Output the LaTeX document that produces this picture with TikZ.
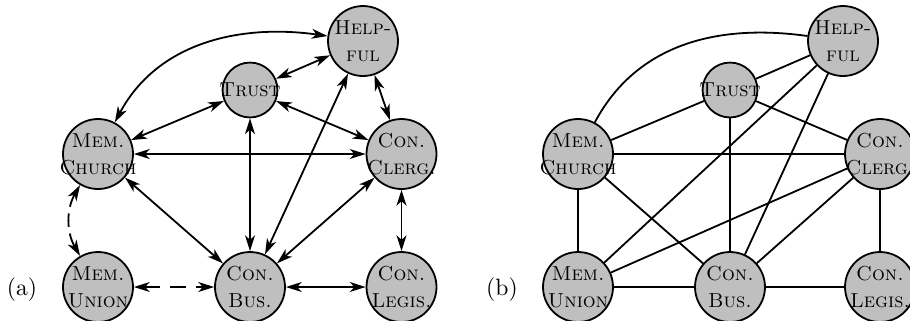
\documentclass[tikz,border=0pt]{standalone}
\usetikzlibrary{arrows.meta}
\begin{document}
\begin{tikzpicture}[x=0.4444pt,y=-0.4444pt,
  vtx/.style={circle,draw,line width=0.8pt,fill=black!25,inner sep=0pt,minimum size=31.1pt,
    label={[txt]center:#1}},
  txt/.style={inner sep=0pt,align=center,font=\fontsize{9}{12}\selectfont\scshape},
  sml/.style={minimum size=24.4pt},
  edge/.style={line width=0.8pt},
  tip/.tip={Stealth[length=7pt,width=4.4pt,inset=2pt]},
  bi/.style={edge,tip-tip},
  dsh/.style={dash pattern=on 7pt off 4.5pt},
  lab/.style={font=\fontsize{10.5}{12}\selectfont}
]
\useasboundingbox (0,0) rectangle (910,320);
% ---------- panel (a)
\node[vtx={Help-\\ful}] (ahelp) at (363,41) {};
\node[vtx={Trust},sml] (atrust) at (250,90) {};
\node[vtx={Mem.\\Church}] (achurch) at (98,154) {};
\node[vtx={Con.\\Clerg.}] (aclerg) at (401.5,154) {};
\node[vtx={Mem.\\Union}] (aunion) at (98,287) {};
\node[vtx={Con.\\Bus.}] (abus) at (250,287) {};
\node[vtx={Con.\\Legis.}] (alegis) at (401.5,287) {};
\node[lab] (alab) at (22,290) {(a)};
\draw[bi] (achurch) to[out=62,in=172] (ahelp);
\draw[bi] (atrust) -- (ahelp);
\draw[bi] (atrust) -- (achurch);
\draw[bi] (atrust) -- (aclerg);
\draw[bi] (ahelp) -- (aclerg);
\draw[bi] (achurch) -- (aclerg);
\draw[bi] (atrust) -- (abus);
\draw[bi] (abus) -- (ahelp);
\draw[bi] (achurch) -- (abus);
\draw[bi] (aclerg) -- (abus);
\draw[bi] (aclerg) -- (alegis);
\draw[bi,dsh] (aunion) -- (abus);
\draw[bi] (abus) -- (alegis);
\draw[bi,dash pattern=on 6pt off 3pt] (achurch) to[out=240,in=120] (aunion);
% ---------- panel (b)
\node[vtx={Help-\\ful}] (bhelp) at (843,41) {};
\node[vtx={Trust},sml] (btrust) at (730,90) {};
\node[vtx={Mem.\\Church}] (bchurch) at (578,154) {};
\node[vtx={Con.\\Clerg.}] (bclerg) at (880,154) {};
\node[vtx={Mem.\\Union}] (bunion) at (578,287) {};
\node[vtx={Con.\\Bus.}] (bbus) at (730,287) {};
\node[vtx={Con.\\Legis.}] (blegis) at (880,287) {};
\node[lab] (blab) at (502,290) {(b)};
\draw[edge] (bchurch) to[out=62,in=172] (bhelp);
\draw[edge] (btrust) -- (bhelp);
\draw[edge] (bhelp) -- (bunion);
\draw[edge] (bhelp) -- (bbus);
\draw[edge] (btrust) -- (bchurch);
\draw[edge] (btrust) -- (bclerg);
\draw[edge] (btrust) -- (bbus);
\draw[edge] (bchurch) -- (bclerg);
\draw[edge] (bchurch) -- (bunion);
\draw[edge] (bchurch) -- (bbus);
\draw[edge] (bclerg) -- (bunion);
\draw[edge] (bclerg) -- (bbus);
\draw[edge] (bclerg) -- (blegis);
\draw[edge] (bunion) -- (bbus);
\draw[edge] (bbus) -- (blegis);
\end{tikzpicture}
\end{document}
